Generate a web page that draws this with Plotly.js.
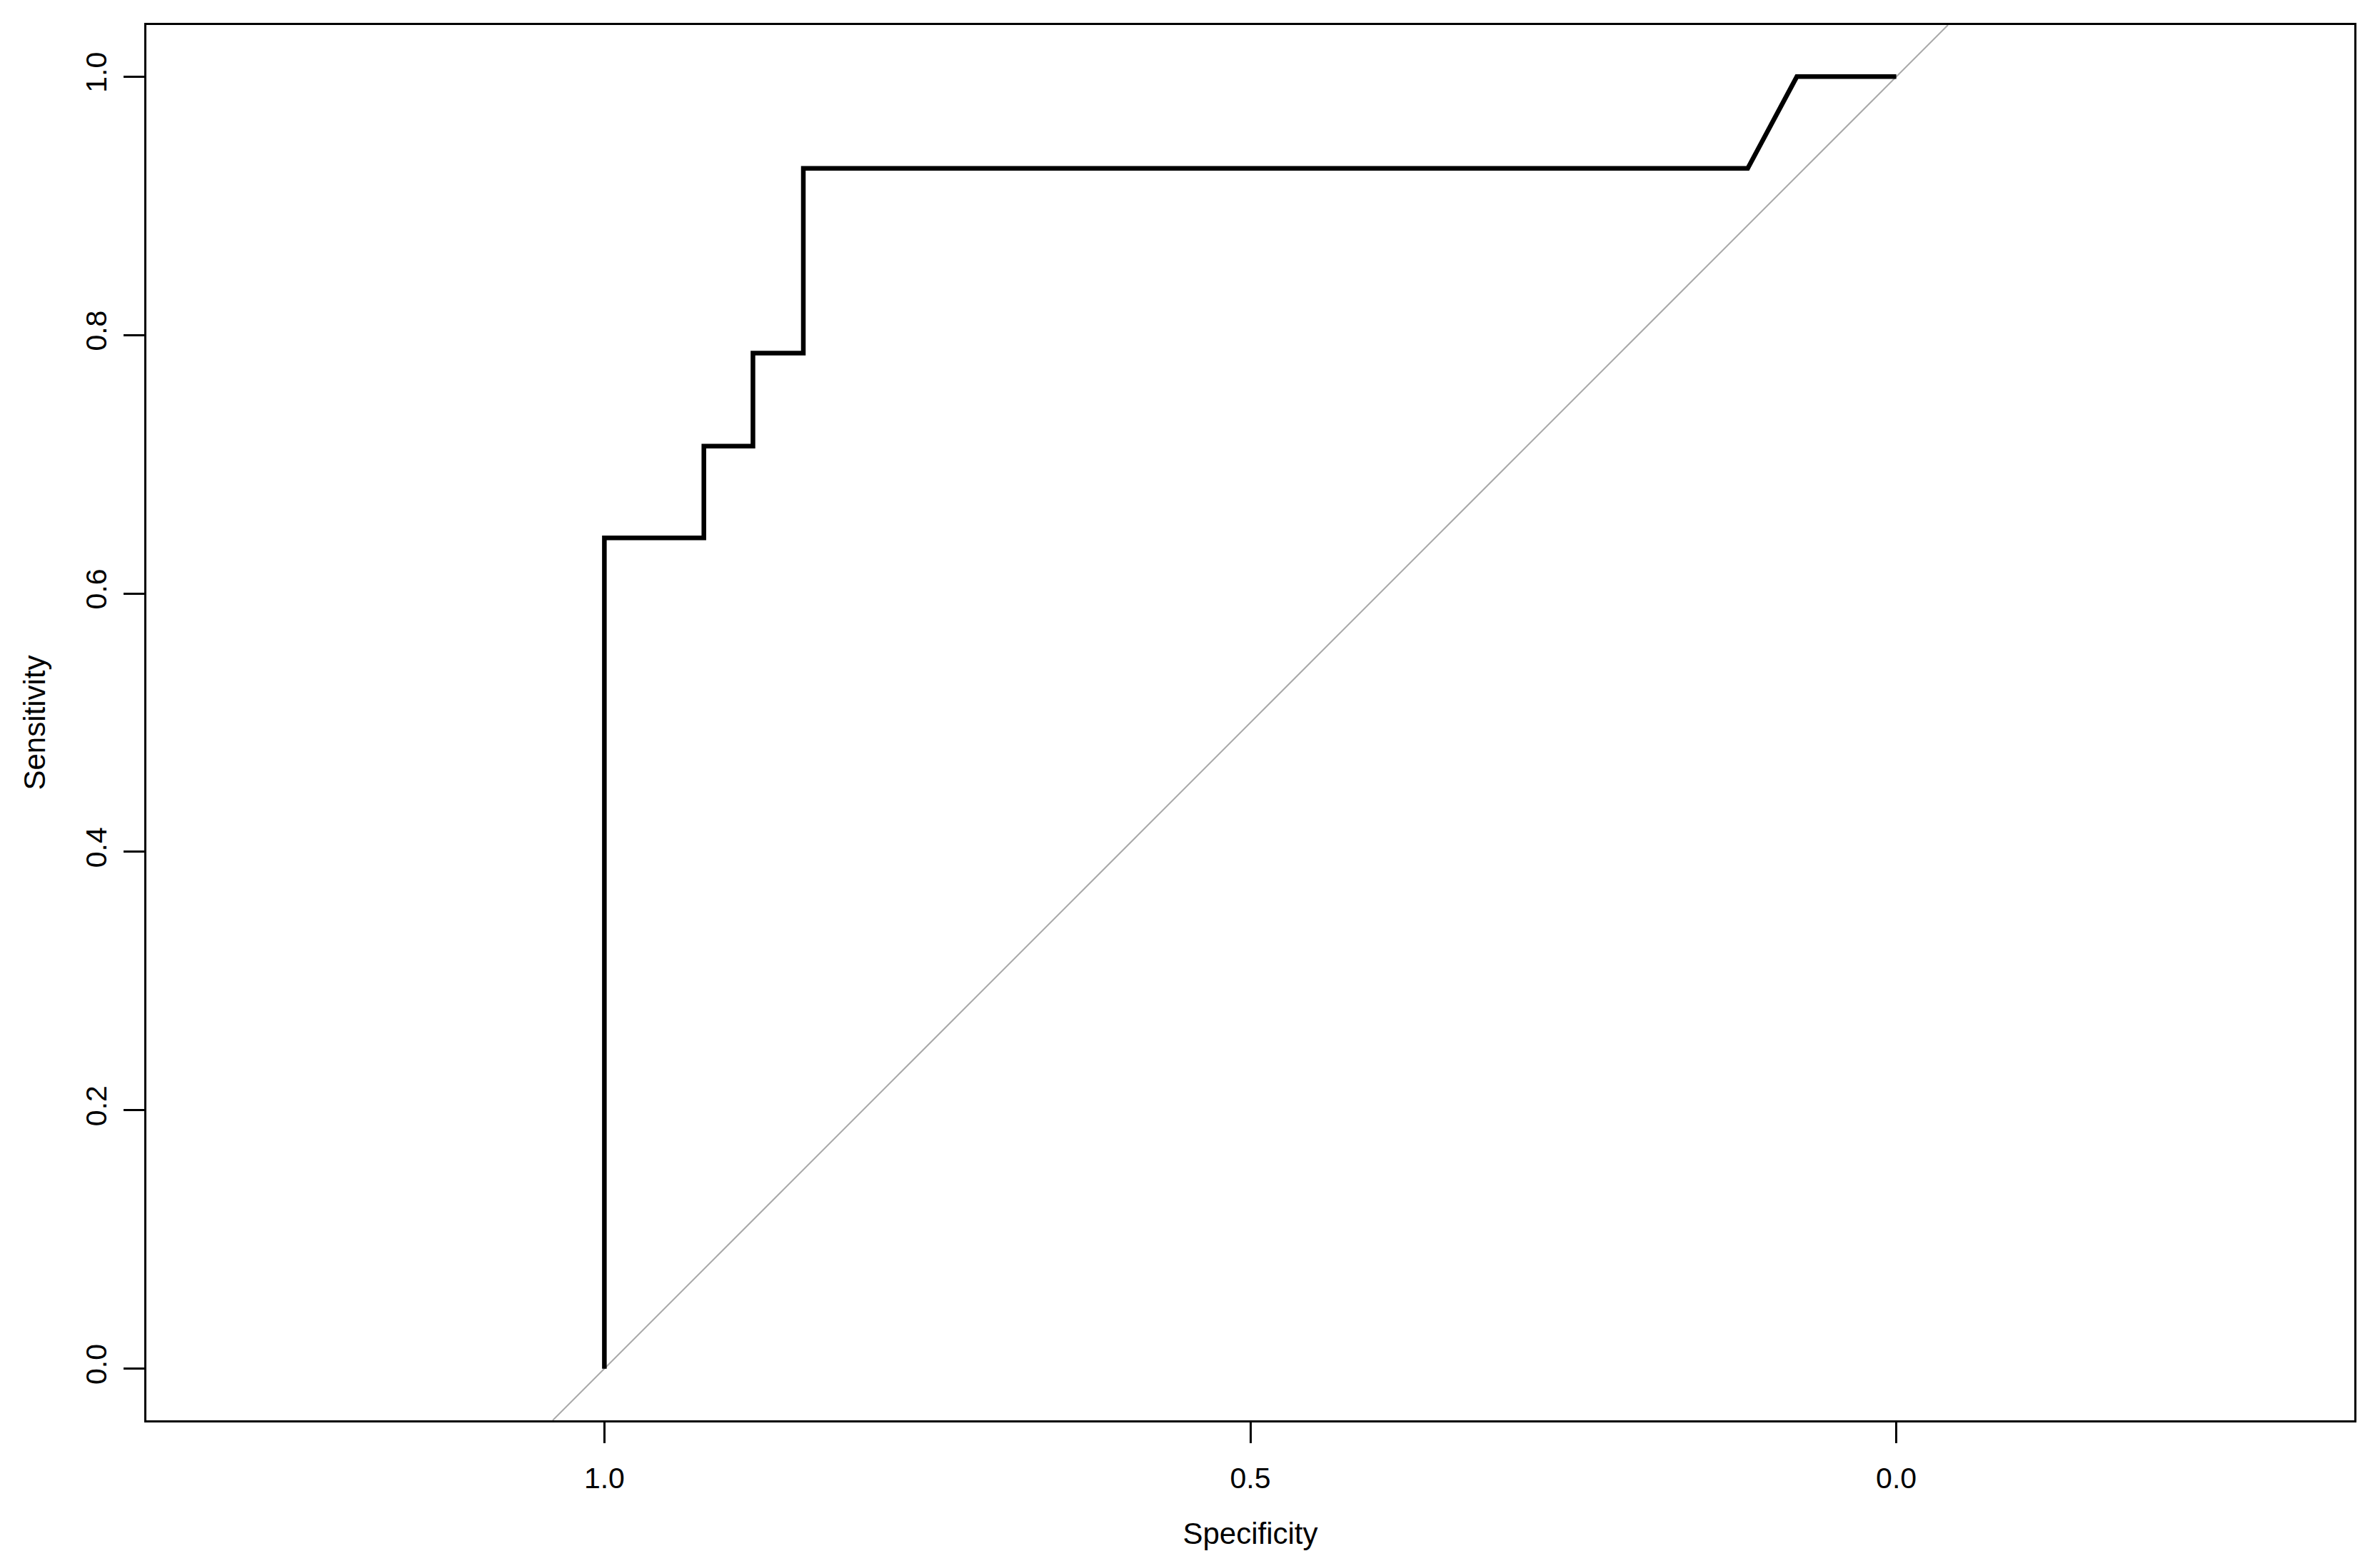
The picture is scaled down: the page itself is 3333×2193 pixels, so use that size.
<!DOCTYPE html>
<html>
<head>
<meta charset="utf-8">
<script src="https://cdn.plot.ly/plotly-3.0.1.min.js"></script>
<style>
  html, body { margin: 0; padding: 0; background: #ffffff; }
  #chart { width: 3333px; height: 2193px; }
</style>
</head>
<body>
<div id="chart"></div>
<script>
// ROC curve values
const specificity = [1.0, 1.0, 0.923, 0.923, 0.885, 0.885, 0.846, 0.846, 0.115, 0.077, 0.0];
const sensitivity = [0.0, 0.643, 0.643, 0.714, 0.714, 0.786, 0.786, 0.929, 0.929, 1.0, 1.0];

// Identity (chance) line: sensitivity = 1 - specificity, across the plotted range
const identitySpec = [1.04, -0.04];
const identitySens = [-0.04, 1.04];

// Tick values and labels
const xTickVals = [1.0, 0.5, 0.0];
const xTickText = ["1.0", "0.5", "0.0"];
const yTickVals = [0.0, 0.2, 0.4, 0.6, 0.8, 1.0];
const yTickText = ["0.0", "0.2", "0.4", "0.6", "0.8", "1.0"];

const FONT = "Liberation Sans, Arial, sans-serif";

const traces = [
  {
    x: identitySpec, y: identitySens,
    type: "scatter", mode: "lines",
    line: { color: "#a9a9a9", width: 2 },
    hoverinfo: "skip", showlegend: false
  },
  {
    x: specificity, y: sensitivity,
    type: "scatter", mode: "lines",
    line: { color: "#000000", width: 6.5 },
    showlegend: false
  }
];

const layout = {
  width: 3333, height: 2193,
  margin: { l: 205, r: 36, t: 35, b: 204, pad: 0 },
  paper_bgcolor: "#ffffff", plot_bgcolor: "#ffffff",
  font: { family: FONT, size: 42, color: "#000000" },
  showlegend: false,
  xaxis: {
    range: [1.3545, -0.3545],
    tickmode: "array", tickvals: xTickVals, ticktext: xTickText,
    ticks: "outside", ticklen: 29, tickwidth: 3, tickcolor: "#000000",
    showline: true, linewidth: 3, linecolor: "#000000", mirror: true,
    showgrid: false, zeroline: false,
    tickfont: { family: FONT, size: 41, color: "#000000" },
    ticklabelstandoff: 14,
    title: { text: "Specificity", font: { family: FONT, size: 42, color: "#000000" }, standoff: 41 },
    automargin: false
  },
  yaxis: {
    range: [-0.04, 1.04],
    tickmode: "array", tickvals: yTickVals, ticktext: yTickText,
    tickangle: -90,
    ticks: "outside", ticklen: 29, tickwidth: 3, tickcolor: "#000000",
    showline: true, linewidth: 3, linecolor: "#000000", mirror: true,
    showgrid: false, zeroline: false,
    tickfont: { family: FONT, size: 41, color: "#000000" },
    ticklabelstandoff: 8,
    title: { text: "Sensitivity", font: { family: FONT, size: 42, color: "#000000" }, standoff: 35 },
    automargin: false
  }
};

Plotly.newPlot("chart", traces, layout, { displayModeBar: false, staticPlot: true });
</script>
</body>
</html>
